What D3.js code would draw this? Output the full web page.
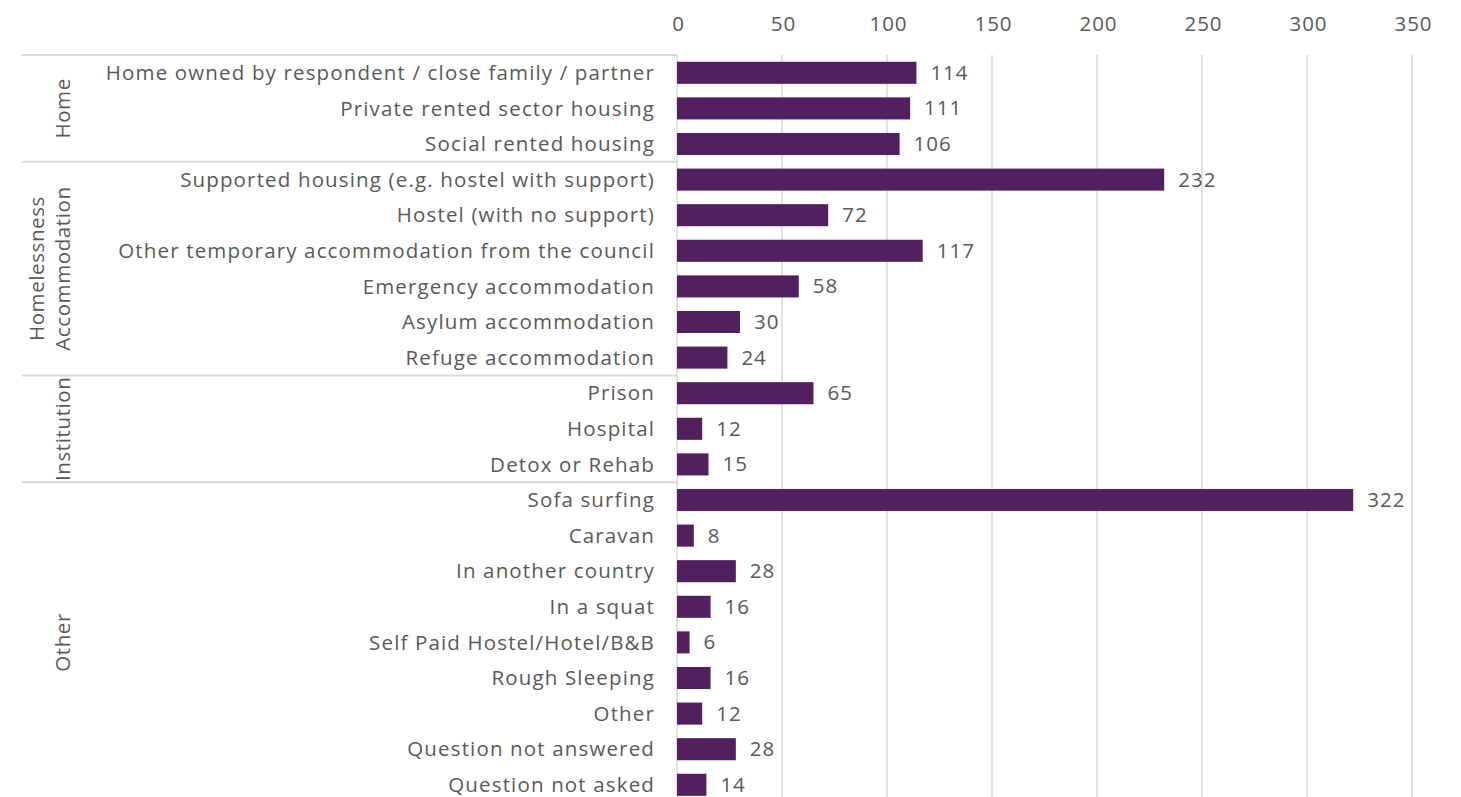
<!DOCTYPE html>
<html>
<head>
<meta charset="utf-8">
<script src="https://cdn.jsdelivr.net/npm/d3@7"></script>
<style>
  html, body { margin: 0; padding: 0; background: #ffffff; }
  svg { display: block; font-family: "Open Sans", "Lato", sans-serif; }
</style>
</head>
<body>
<svg id="chart" width="1461" height="797"></svg>
<script>
// Where people were living, by accommodation type
const categories = [
  "Home owned by respondent / close family / partner",
  "Private rented sector housing",
  "Social rented housing",
  "Supported housing (e.g. hostel with support)",
  "Hostel (with no support)",
  "Other temporary accommodation from the council",
  "Emergency accommodation",
  "Asylum accommodation",
  "Refuge accommodation",
  "Prison",
  "Hospital",
  "Detox or Rehab",
  "Sofa surfing",
  "Caravan",
  "In another country",
  "In a squat",
  "Self Paid Hostel/Hotel/B&B",
  "Rough Sleeping",
  "Other",
  "Question not answered",
  "Question not asked"
];
const values = [114, 111, 106, 232, 72, 117, 58, 30, 24, 65, 12, 15, 322, 8, 28, 16, 6, 16, 12, 28, 14];

// Groups: name lines, first and last category index
const groupNames = [["Home"], ["Homelessness", "Accommodation"], ["Institution"], ["Other"]];
const groupStarts = [0, 3, 9, 12];
const groupEnds = [2, 8, 11, 20];

const xTicks = [0, 50, 100, 150, 200, 250, 300, 350];

const barColor = "#53205f";
const textColor = "#595959";
const gridColor = "#d9d9d9";

const svg = d3.select("#chart");
const W = 1461, H = 797;
const plotLeft = 677, plotRight = 1412;
const plotTop = 55, rowStep = 35.6;
const groupLeft = 22;

const x = d3.scaleLinear().domain([0, 350]).range([plotLeft, plotRight]);
const y = d3.scaleBand()
  .domain(categories)
  .range([plotTop, plotTop + rowStep * categories.length])
  .paddingInner(0.38)
  .paddingOuter(0.19);

// Vertical gridlines
svg.append("g")
  .selectAll("line")
  .data(xTicks)
  .join("line")
  .attr("x1", d => x(d)).attr("x2", d => x(d))
  .attr("y1", plotTop).attr("y2", H)
  .attr("stroke", gridColor)
  .attr("stroke-width", 1.5);

// Top axis labels
const xAxis = d3.axisTop(x).tickValues(xTicks).tickSize(0).tickPadding(0);
const gx = svg.append("g")
  .attr("transform", "translate(1,31)")
  .call(xAxis);
gx.select(".domain").remove();
gx.selectAll("text")
  .attr("fill", textColor)
  .style("font-size", "20.5px")
  .style("letter-spacing", "1px")
  .style("font-family", "'Open Sans', sans-serif");

// Group separators
const sepYs = groupStarts.map(i => y(categories[i]) - y.step() * y.paddingInner() / 2);
svg.append("g")
  .selectAll("line")
  .data(sepYs)
  .join("line")
  .attr("x1", groupLeft).attr("x2", plotLeft)
  .attr("y1", d => d).attr("y2", d => d)
  .attr("stroke", gridColor)
  .attr("stroke-width", 2);

// Group labels (rotated)
const gl = svg.append("g")
  .selectAll("text")
  .data(groupNames.map((n, i) => ({ lines: n, s: groupStarts[i], e: groupEnds[i] })))
  .join("text")
  .attr("transform", d => {
    const yc = (y(categories[d.s]) + y(categories[d.e]) + y.bandwidth()) / 2;
    const xc = 63 - (d.lines.length - 1) * 26;
    return `translate(${xc},${yc}) rotate(-90)`;
  })
  .attr("text-anchor", "middle")
  .attr("fill", textColor)
  .style("font-size", "20.5px")
  .style("letter-spacing", "0.6px");
gl.selectAll("tspan")
  .data(d => d.lines)
  .join("tspan")
  .attr("x", 0)
  .attr("dy", (d, i) => i === 0 ? "0.35em" : "1.27em")
  .text(d => d);

// Category labels
svg.append("g")
  .selectAll("text")
  .data(categories)
  .join("text")
  .attr("x", plotLeft - 22)
  .attr("y", d => y(d) + y.bandwidth() / 2)
  .attr("dy", "0.35em")
  .attr("text-anchor", "end")
  .attr("fill", textColor)
  .style("font-size", "20.5px")
  .style("letter-spacing", "1.15px")
  .text(d => d);

// Bars
svg.append("g")
  .selectAll("rect")
  .data(categories.map((c, i) => ({ c, v: values[i] })))
  .join("rect")
  .attr("x", x(0))
  .attr("y", d => y(d.c))
  .attr("width", d => x(d.v) - x(0))
  .attr("height", y.bandwidth())
  .attr("fill", barColor);

// Value labels
svg.append("g")
  .selectAll("text")
  .data(categories.map((c, i) => ({ c, v: values[i] })))
  .join("text")
  .attr("x", d => x(d.v) + 14)
  .attr("y", d => y(d.c) + y.bandwidth() / 2)
  .attr("dy", "0.34em")
  .attr("fill", textColor)
  .style("font-size", "20.5px")
  .style("letter-spacing", "1px")
  .text(d => d.v);
</script>
</body>
</html>
